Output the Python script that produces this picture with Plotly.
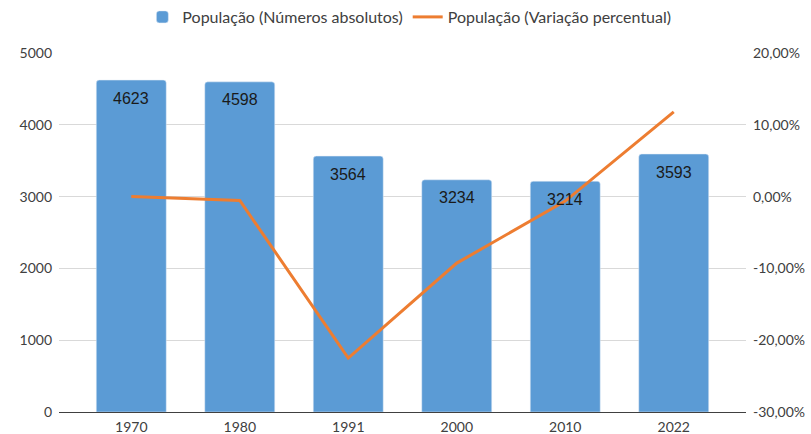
import plotly.graph_objects as go

years = ["1970", "1980", "1991", "2000", "2010", "2022"]
populacao = [4623, 4598, 3564, 3234, 3214, 3593]
variacao = [0.0, -0.0054, -0.2249, -0.0926, -0.0062, 0.1179]
pct_tickvals = [-0.3, -0.2, -0.1, 0.0, 0.1, 0.2]
pct_ticktext = ["-30,00%", "-20,00%", "-10,00%", "0,00%", "10,00%", "20,00%"]

fig = go.Figure()
fig.add_trace(go.Bar(
    x=years, y=populacao, name="População (Números absolutos)",
    marker=dict(color="#5B9BD5", cornerradius=3),
))
fig.add_trace(go.Scatter(
    x=years, y=variacao, name="População (Variação percentual)", yaxis="y2",
    mode="lines", line=dict(color="#ED7D31", width=3),
))

for i, v in enumerate(populacao):
    fig.add_annotation(x=i, y=v, xref="x", yref="y", text=str(v), showarrow=False,
                       yanchor="middle", yshift=-18,
                       font=dict(family="Liberation Sans, Arial", size=16, color="#1a1a1a"))

fig.update_layout(
    width=811, height=434,
    margin=dict(l=59, r=65, t=53, b=22, autoexpand=False),
    plot_bgcolor="white", paper_bgcolor="white",
    separators=",.",
    bargap=0.355,
    font=dict(family="Lato, Liberation Sans", size=14, color="#404040"),
    legend=dict(orientation="h", x=0.51, xanchor="center", y=1.0, yref="container", yanchor="top",
                font=dict(size=16, color="#404040"), traceorder="normal", itemwidth=30),
    xaxis=dict(type="category", range=[-0.666, 5.666], showline=True, linecolor="#404040",
               linewidth=1, ticks="", ticklen=0, ticklabelstandoff=2, showgrid=False,
               tickfont=dict(size=14, color="#404040")),
    yaxis=dict(range=[0, 5000], dtick=1000, tickformat="d", showgrid=True, gridcolor="#d9d9d9",
               gridwidth=1, zeroline=False, ticks="", ticklen=0, ticklabelstandoff=6,
               tickfont=dict(size=14, color="#404040")),
    yaxis2=dict(range=[-0.3, 0.2], tickvals=pct_tickvals, ticktext=pct_ticktext,
                overlaying="y", side="right",
                showgrid=False, zeroline=False, ticks="", ticklen=0, ticklabelstandoff=6,
                tickfont=dict(size=14, color="#404040")),
)

fig.write_html("out.html", config={"displayModeBar": False},
               post_script="document.body.style.margin='0';document.body.style.overflow='hidden';")
